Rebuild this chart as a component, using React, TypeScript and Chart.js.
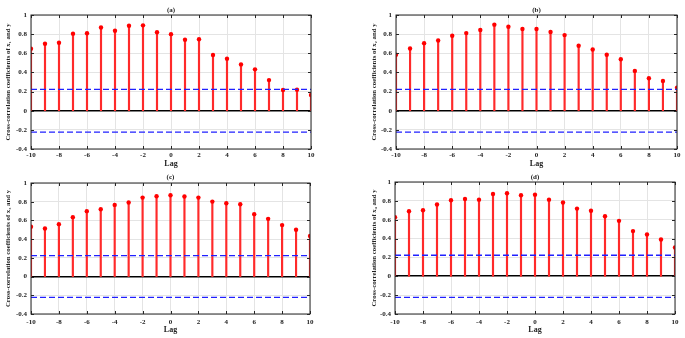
import { useEffect, useRef } from "react";
import { Chart, registerables } from "chart.js";
Chart.register(...registerables);

const lags = [-10, -9, -8, -7, -6, -5, -4, -3, -2, -1, 0, 1, 2, 3, 4, 5, 6, 7, 8, 9, 10];
const seriesA = [0.648, 0.7, 0.71, 0.805, 0.81, 0.87, 0.836, 0.888, 0.892, 0.819, 0.8, 0.742, 0.746, 0.582, 0.544, 0.484, 0.432, 0.32, 0.216, 0.22, 0.164];
const seriesB = [0.584, 0.65, 0.706, 0.734, 0.783, 0.811, 0.843, 0.899, 0.878, 0.853, 0.853, 0.822, 0.79, 0.678, 0.64, 0.584, 0.538, 0.416, 0.339, 0.311, 0.241];
const seriesC = [0.532, 0.514, 0.56, 0.635, 0.699, 0.72, 0.766, 0.791, 0.844, 0.858, 0.869, 0.855, 0.844, 0.801, 0.784, 0.773, 0.667, 0.617, 0.55, 0.5, 0.433];
const seriesD = [0.627, 0.69, 0.7, 0.761, 0.806, 0.82, 0.813, 0.873, 0.88, 0.859, 0.866, 0.813, 0.782, 0.718, 0.695, 0.637, 0.588, 0.479, 0.444, 0.39, 0.306];
const panelTitles = ["(a)", "(b)", "(c)", "(d)"];
const yAxisTitles = [
  "Cross-correlation coefficients of x\u2081 and y",
  "Cross-correlation coefficients of x\u2082 and y",
  "Cross-correlation coefficients of x\u2083 and y",
  "Cross-correlation coefficients of x\u2084 and y",
];
const confidenceBound = 0.223;
const boundLags = [-10, 10];
const yMin = -0.4;
const yMax = 1;
const yStep = 0.2;
const xStep = 2;
const xTitle = "Lag";

type Panel = {
  series: number[];
  title: string;
  yTitle: string;
  left: number;
  top: number;
  w: number;
  h: number;
  padLeft: number;
  axisW: number;
  padRight: number;
  padTop: number;
  xAxisH: number;
  lagPad: number;
  tickPad: number;
  titleY: number;
};

const panels: Panel[] = [
  { series: seriesA, title: panelTitles[0], yTitle: yAxisTitles[0], left: 0, top: 0, w: 342, h: 169, padLeft: 0, axisW: 31, padRight: 31, padTop: 15, xAxisH: 20, lagPad: 0, tickPad: 2, titleY: 10 },
  { series: seriesB, title: panelTitles[1], yTitle: yAxisTitles[1], left: 342, top: 0, w: 343, h: 169, padLeft: 24, axisW: 30, padRight: 8, padTop: 15, xAxisH: 20, lagPad: 0, tickPad: 2, titleY: 10 },
  { series: seriesC, title: panelTitles[2], yTitle: yAxisTitles[2], left: 0, top: 169, w: 342, h: 169, padLeft: 0, axisW: 31, padRight: 32, padTop: 14, xAxisH: 24, lagPad: 3, tickPad: 3.5, titleY: 8 },
  { series: seriesD, title: panelTitles[3], yTitle: yAxisTitles[3], left: 342, top: 169, w: 343, h: 169, padLeft: 24, axisW: 29, padRight: 10, padTop: 13, xAxisH: 24, lagPad: 3, tickPad: 3.5, titleY: 8 },
];

const FONT = "'Liberation Serif', 'Times New Roman', serif";
const TEXT = "#222222";
const BLUE = "#2020ff";

function fmt(v: number) {
  return String(Number(Number(v).toFixed(1)));
}

function StemChart({ p }: { p: Panel }) {
  const ref = useRef<HTMLCanvasElement | null>(null);
  useEffect(() => {
    if (!ref.current) return;
    const boxPlugin = {
      id: "box" + p.title,
      afterDatasetsDraw(chart: any) {
        const { ctx, chartArea } = chart;
        const xs = chart.scales.x;
        const ys = chart.scales.y;
        ctx.save();
        ctx.strokeStyle = "#262626";
        ctx.lineWidth = 1;
        ctx.beginPath();
        for (let v = -10; v <= 10; v += xStep) {
          const px = Math.round(xs.getPixelForValue(v)) + 0.5;
          ctx.moveTo(px, chartArea.bottom);
          ctx.lineTo(px, chartArea.bottom - 3);
          ctx.moveTo(px, chartArea.top);
          ctx.lineTo(px, chartArea.top + 3);
        }
        for (let i = 0; i <= 7; i++) {
          const v = yMin + i * yStep;
          const py = Math.round(ys.getPixelForValue(v)) + 0.5;
          ctx.moveTo(chartArea.left, py);
          ctx.lineTo(chartArea.left + 3, py);
          ctx.moveTo(chartArea.right, py);
          ctx.lineTo(chartArea.right - 3, py);
        }
        ctx.stroke();
        ctx.strokeRect(chartArea.left, chartArea.top, chartArea.right - chartArea.left, chartArea.bottom - chartArea.top);
        ctx.fillStyle = TEXT;
        ctx.font = `bold 7px ${FONT}`;
        ctx.textAlign = "center";
        ctx.textBaseline = "middle";
        ctx.fillText(p.title, (chartArea.left + chartArea.right) / 2, p.titleY);
        ctx.restore();
      },
    };
    const dashed = (y: number) =>
      ({
        type: "line",
        data: boundLags.map((x) => ({ x, y })),
        borderColor: BLUE,
        borderWidth: 1.3,
        borderDash: [6, 3],
        pointRadius: 0,
        showLine: true,
        clip: 0,
        order: 1,
      }) as any;
    const chart = new Chart(ref.current, {
      type: "scatter",
      data: {
        datasets: [
          dashed(confidenceBound),
          dashed(-confidenceBound),
          {
            type: "bar",
            data: lags.map((x, i) => ({ x, y: p.series[i] })),
            backgroundColor: "#ff2a2a",
            barThickness: 1.5,
            clip: 0,
            order: 3,
          } as any,
          {
            type: "scatter",
            data: lags.map((x, i) => ({ x, y: p.series[i] })),
            backgroundColor: "#ff0000",
            borderColor: "#ff0000",
            pointRadius: 2.2,
            borderWidth: 0,
            clip: 0,
            order: 2,
          } as any,
        ],
      },
      options: {
        responsive: false,
        animation: false,
        layout: { padding: { left: p.padLeft, right: p.padRight, top: p.padTop, bottom: 0 } },
        plugins: { legend: { display: false }, tooltip: { enabled: false }, title: { display: false } },
        scales: {
          x: {
            type: "linear",
            min: -10,
            max: 10,
            offset: false,
            afterFit: (s: any) => {
              s.height = p.xAxisH;
            },
            ticks: { stepSize: xStep, padding: p.tickPad, color: TEXT, font: { family: FONT, size: 7, weight: "bold" }, maxRotation: 0, autoSkip: false, callback: (v: any) => fmt(v) },
            grid: { color: "#e4e4e4", drawTicks: false, offset: false },
            border: { display: false },
            title: { display: true, text: xTitle, color: TEXT, font: { family: FONT, size: 8, weight: "bold" }, padding: { top: 0, bottom: p.lagPad } },
          },
          y: {
            type: "linear",
            min: yMin,
            max: yMax,
            afterFit: (s: any) => {
              s.width = p.axisW;
            },
            ticks: { stepSize: yStep, padding: 4, color: TEXT, font: { family: FONT, size: 7, weight: "bold" }, callback: (v: any) => fmt(v) },
            grid: {
              drawTicks: false,
              color: (c: any) => (c.tick && Math.abs(c.tick.value) < 1e-9 ? "#000000" : "#e4e4e4"),
              lineWidth: (c: any) => (c.tick && Math.abs(c.tick.value) < 1e-9 ? 1.6 : 1),
            },
            border: { display: false },
            title: { display: true, text: p.yTitle, color: TEXT, font: { family: FONT, size: 6.8, weight: "bold" }, padding: { top: 4, bottom: 0 } },
          },
        },
      } as any,
      plugins: [boxPlugin],
    });
    return () => chart.destroy();
  }, [p]);
  return (
    <canvas
      ref={ref}
      width={p.w}
      height={p.h}
      style={{ position: "absolute", left: p.left, top: p.top, width: p.w, height: p.h }}
    />
  );
}

export default function App() {
  return (
    <div style={{ position: "absolute", left: 0, top: 0, width: 685, height: 338, background: "#ffffff" }}>
      {panels.map((p) => (
        <StemChart key={p.title} p={p} />
      ))}
    </div>
  );
}
